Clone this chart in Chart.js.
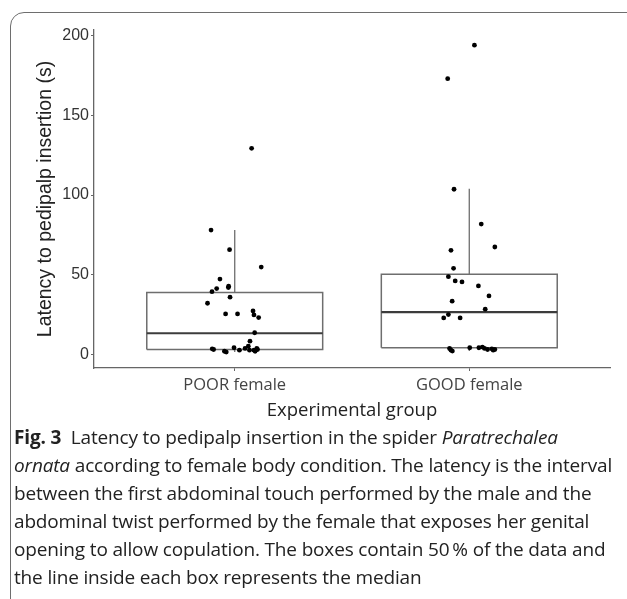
<!DOCTYPE html>
<html>
<head>
<meta charset="utf-8">
<script src="https://cdn.jsdelivr.net/npm/chart.js@4"></script>
<style>
  body { margin: 0; background: #fff; width: 627px; height: 599px; overflow: hidden; position: relative; }
  #frame { position: absolute; left: 10px; top: 12px; width: 700px; height: 700px;
           border: 1.5px solid #6e6e6e; border-radius: 14px; }
  #wrap { position: absolute; left: 0; top: 0; width: 627px; height: 430px; }
  #caption { position: absolute; left: 14px; top: 423px; width: 612px;
             font-family: "Open Sans", sans-serif; font-size: 19px; line-height: 28px;
             color: #222; white-space: nowrap; letter-spacing: -0.16px; }
  #caption b { font-weight: 700; }
</style>
</head>
<body>
<div id="frame"></div>
<div id="wrap"><canvas id="boxChart"></canvas></div>
<div id="caption">
  <b>Fig. 3</b>&nbsp; Latency to pedipalp insertion in the spider <i>Paratrechalea</i><br>
  <i>ornata</i> according to female body condition. The latency is the interval<br>
  between the first abdominal touch performed by the male and the<br>
  abdominal twist performed by the female that exposes her genital<br>
  opening to allow copulation. The boxes contain 50&#8201;% of the data and<br>
  the line inside each box represents the median
</div>
<script>
// groups and box statistics (seconds)
const categories = ['POOR female', 'GOOD female'];
const boxQ1 = [3.1, 4.2];
const boxMedian = [13.3, 26.5];
const boxQ3 = [38.8, 50.3];
const whiskerLow = [1.5, 2.1];
const whiskerHigh = [78, 103.9];
const yTicks = [0, 50, 100, 150, 200];

const poorValues = [129.3, 78, 65.7, 54.8, 47.3, 41.3, 39.4, 42, 42.8, 35.9, 32.1, 25.4, 25.4, 27.3, 24.8, 23.1,
  13.6, 8.3, 3.5, 3.1, 2.0, 1.5, 4.2, 2.7, 3.8, 5.2, 2.7, 2.7, 2.0, 3.8, 3.1];
const poorJitter = [0.072, -0.101, -0.022, 0.113, -0.063, -0.077, -0.097, -0.027, -0.026, -0.020, -0.116, -0.039, 0.012, 0.078, 0.082, 0.102,
  0.085, 0.065, -0.096, -0.090, -0.044, -0.036, -0.003, 0.020, 0.044, 0.058, 0.063, 0.082, 0.087, 0.094, 0.097];
const goodValues = [194, 173, 103.6, 81.8, 67.4, 65.3, 54, 48.8, 46.1, 45.5, 43, 36.7, 33.4, 28.4, 25, 22.9, 22.9,
  3.8, 2.7, 2.1, 4.2, 4.2, 4.6, 3.8, 3.1, 3.5, 2.7, 3.1];
const goodJitter = [0.022, -0.092, -0.065, 0.051, 0.109, -0.078, -0.067, -0.089, -0.060, -0.031, 0.039, 0.084, -0.073, 0.068, -0.089, -0.109, -0.039,
  -0.084, -0.078, -0.072, 0.002, 0.041, 0.056, 0.065, 0.078, 0.096, 0.102, 0.109];

const boxHalf = 0.375;
const boxColor = '#6e6e6e';

function buildDatasets() {
  const sets = [];

  // jittered points go first so they are drawn on top
  const pts = [];
  poorValues.forEach((v, i) => pts.push({ x: 1 + poorJitter[i], y: v }));
  goodValues.forEach((v, i) => pts.push({ x: 2 + goodJitter[i], y: v }));
  sets.push({ type: 'scatter', data: pts, pointRadius: 2.4, pointBackgroundColor: '#000', pointBorderWidth: 0, showLine: false });

  categories.forEach((c, i) => {
    const x = i + 1;
    // median
    sets.push({ data: [{ x: x - boxHalf, y: boxMedian[i] }, { x: x + boxHalf, y: boxMedian[i] }],
      borderColor: '#3c3c3c', borderWidth: 2.2 });
    // box outline
    sets.push({ data: [
        { x: x - boxHalf, y: boxQ1[i] }, { x: x + boxHalf, y: boxQ1[i] },
        { x: x + boxHalf, y: boxQ3[i] }, { x: x - boxHalf, y: boxQ3[i] },
        { x: x - boxHalf, y: boxQ1[i] }],
      borderColor: boxColor, borderWidth: 1.5, backgroundColor: '#fff', fill: true });
    // whiskers
    sets.push({ data: [{ x: x, y: boxQ3[i] }, { x: x, y: whiskerHigh[i] }], borderColor: boxColor, borderWidth: 1.3 });
    sets.push({ data: [{ x: x, y: boxQ1[i] }, { x: x, y: whiskerLow[i] }], borderColor: boxColor, borderWidth: 1.3 });
  });
  return sets;
}

const ctx = document.getElementById('boxChart').getContext('2d');
new Chart(ctx, {
  type: 'scatter',
  data: { datasets: buildDatasets().map(d => Object.assign({ showLine: true, pointRadius: 0, tension: 0 }, d)) },
  options: {
    responsive: true,
    maintainAspectRatio: false,
    animation: false,
    events: [],
    layout: { padding: { left: 30, right: 17, top: 30, bottom: 4 } },
    plugins: { legend: { display: false }, tooltip: { enabled: false } },
    scales: {
      x: {
        type: 'linear', min: 0.4, max: 2.6,
        afterBuildTicks: s => { s.ticks = categories.map((c, i) => ({ value: i + 1 })); },
        afterFit: s => { s.height = 58; },
        ticks: { callback: v => categories[v - 1], color: '#444', padding: 4,
                 font: { family: 'Open Sans', size: 16.5 } },
        grid: { display: true, drawOnChartArea: false, drawTicks: true, tickLength: 3, color: '#666' },
        border: { display: true, color: '#666', width: 1.3 },
        title: { display: true, text: 'Experimental group', color: '#222',
                 font: { family: 'Open Sans', size: 18.5 }, padding: { top: 0, bottom: 4 } }
      },
      y: {
        min: -8.5, max: 203.5,
        afterBuildTicks: s => { s.ticks = yTicks.map(v => ({ value: v })); },
        afterFit: s => { s.width = 64; },
        ticks: { color: '#333', padding: 2, font: { family: 'Liberation Sans', size: 16 } },
        grid: { display: true, drawOnChartArea: false, drawTicks: true, tickLength: 3, color: '#666' },
        border: { display: true, color: '#666', width: 1.3 },
        title: { display: true, text: 'Latency to pedipalp insertion (s)', color: '#222',
                 font: { family: 'Liberation Sans', size: 19.5 }, padding: { top: 4, bottom: 0 } }
      }
    }
  }
});
</script>
</body>
</html>
